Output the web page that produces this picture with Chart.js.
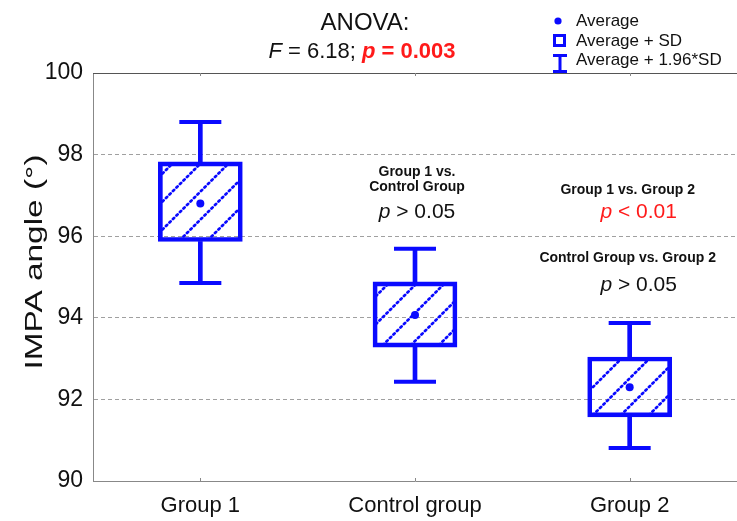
<!DOCTYPE html>
<html>
<head>
<meta charset="utf-8">
<script src="https://cdn.jsdelivr.net/npm/chart.js@4.4.1/dist/chart.umd.min.js"></script>
<style>
  html, body { margin: 0; padding: 0; background: #fff; }
  #wrap { width: 737px; height: 521px; }
</style>
</head>
<body>
<div id="wrap"><canvas id="impa" width="737" height="521"></canvas></div>
<script>
// IMPA angle per group: average, average +/- SD, average +/- 1.96*SD
const groups = ['Group 1', 'Control group', 'Group 2'];
const averages = [96.8, 94.07, 92.3];
const sdLow = [95.87, 93.28, 91.57];
const sdHigh = [97.82, 94.88, 93.04];
const ciLow = [94.85, 92.43, 90.81];
const ciHigh = [98.8, 95.69, 93.87];

const anovaF = '6.18';
const anovaP = '0.003';
const pairNames = [['Group 1 vs.', 'Control Group'], ['Group 1 vs. Group 2'], ['Control Group vs. Group 2']];
const pairP = ['> 0.05', '< 0.01', '> 0.05'];
const pairSignificant = [false, true, false];
const legendLabels = ['Average', 'Average + SD', 'Average + 1.96*SD'];

const BLUE = '#0a0aff';
const RED = '#ff1a1a';
const FONT = '"Liberation Sans", Arial, Helvetica, sans-serif';

// where the pairwise comparison notes sit (category index, y value of first line)
const pairSpots = [
  { cat: 1, top: 97.57, dx: 2, pDx: 2, pGap: 25 },
  { cat: 2, top: 97.13, dx: -2, pDx: 9, pGap: 22 },
  { cat: 2, top: 95.47, dx: -2, pDx: 9, pGap: 27 }
];

// dotted diagonal hatch used inside the SD boxes
function hatchPattern() {
  const n = 28;
  const c = document.createElement('canvas');
  c.width = c.height = n;
  const g = c.getContext('2d');
  g.strokeStyle = BLUE;
  g.lineWidth = 2.8;
  g.lineCap = 'round';
  const diag = n * Math.SQRT2;
  g.setLineDash([1.6, diag / 8 - 1.6]);
  for (const o of [-n, 0, n]) {
    g.beginPath();
    g.moveTo(o - 2, n + 2);
    g.lineTo(o + n + 2, -2);
    g.stroke();
  }
  return g.createPattern(c, 'repeat');
}

// write a row of differently styled text pieces centred on cx
function textRuns(ctx, parts, cx, y) {
  let total = 0;
  parts.forEach(p => { ctx.font = p.font; p.w = ctx.measureText(p.text).width; total += p.w; });
  let x = cx - total / 2;
  ctx.textAlign = 'left';
  parts.forEach(p => {
    ctx.font = p.font;
    ctx.fillStyle = p.color;
    ctx.fillText(p.text, x, y);
    x += p.w;
  });
}

const decor = {
  id: 'decor',
  afterDraw(chart) {
    const { ctx, chartArea: area, scales } = chart;
    const xs = scales.x, ys = scales.y;
    ctx.save();

    // frame line along the top and little category ticks
    ctx.strokeStyle = '#555';
    ctx.lineWidth = 1;
    ctx.beginPath();
    ctx.moveTo(area.left, area.top + 0.5);
    ctx.lineTo(area.right, area.top + 0.5);
    ctx.stroke();
    ctx.strokeStyle = '#888';
    groups.forEach((g, i) => {
      const px = Math.round(xs.getPixelForValue(i)) + 0.5;
      ctx.beginPath();
      ctx.moveTo(px, area.bottom);
      ctx.lineTo(px, area.bottom - 3);
      ctx.moveTo(px, area.top);
      ctx.lineTo(px, area.top + 3);
      ctx.stroke();
    });

    // ANOVA heading
    ctx.textBaseline = 'alphabetic';
    ctx.textAlign = 'center';
    ctx.fillStyle = '#111';
    ctx.font = '24px ' + FONT;
    ctx.fillText('ANOVA:', 365, 30);
    textRuns(ctx, [
      { text: 'F', font: 'italic 22px ' + FONT, color: '#111' },
      { text: ' = ' + anovaF + '; ', font: '22px ' + FONT, color: '#111' },
      { text: 'p', font: 'italic bold 22px ' + FONT, color: RED },
      { text: ' = ' + anovaP, font: 'bold 22px ' + FONT, color: RED }
    ], 362, 58);

    // legend
    ctx.fillStyle = BLUE;
    ctx.beginPath();
    ctx.arc(558, 21, 3.6, 0, Math.PI * 2);
    ctx.fill();
    ctx.strokeStyle = BLUE;
    ctx.lineWidth = 3;
    ctx.strokeRect(554.5, 35.5, 10, 10);
    ctx.fillRect(553, 54, 14, 3);
    ctx.fillRect(558.5, 55, 3, 16);
    ctx.fillRect(553, 70, 14, 3);
    ctx.fillStyle = '#111';
    ctx.font = '17px ' + FONT;
    ctx.textAlign = 'left';
    ctx.textBaseline = 'middle';
    legendLabels.forEach((t, i) => ctx.fillText(t, 576, [21, 41, 60][i]));

    // y axis title, stretched along its length
    ctx.save();
    ctx.translate(42, 262);
    ctx.rotate(-Math.PI / 2);
    ctx.font = '23px ' + FONT;
    const tw = ctx.measureText('IMPA angle (°)').width;
    ctx.scale(215 / tw, 1);
    ctx.textAlign = 'center';
    ctx.textBaseline = 'alphabetic';
    ctx.fillStyle = '#111';
    ctx.fillText('IMPA angle (°)', 0, 0);
    ctx.restore();

    // pairwise comparisons
    ctx.textBaseline = 'middle';
    pairSpots.forEach((s, i) => {
      const cx = xs.getPixelForValue(s.cat);
      let y = ys.getPixelForValue(s.top);
      ctx.font = 'bold 14px ' + FONT;
      ctx.fillStyle = '#111';
      ctx.textAlign = 'center';
      pairNames[i].forEach((line, j) => ctx.fillText(line, cx + s.dx, y + j * 15));
      y += (pairNames[i].length - 1) * 15 + s.pGap;
      const col = pairSignificant[i] ? RED : '#111';
      textRuns(ctx, [
        { text: 'p', font: 'italic 21px ' + FONT, color: col },
        { text: ' ' + pairP[i], font: '21px ' + FONT, color: col }
      ], cx + s.pDx, y);
    });

    ctx.restore();
  }
};

const sdRange = groups.map((g, i) => [sdLow[i], sdHigh[i]]);
const upperStem = groups.map((g, i) => [sdHigh[i], ciHigh[i]]);
const lowerStem = groups.map((g, i) => [ciLow[i], sdLow[i]]);

new Chart(document.getElementById('impa'), {
  type: 'bar',
  data: {
    labels: groups,
    datasets: [
      {
        type: 'line',
        label: 'Average',
        data: averages,
        showLine: false,
        pointStyle: 'circle',
        pointRadius: 4,
        pointBackgroundColor: BLUE,
        pointBorderWidth: 0,
        order: 0
      },
      {
        type: 'line',
        label: 'Average + 1.96*SD',
        data: ciHigh,
        showLine: false,
        pointStyle: 'line',
        pointRadius: 21,
        pointBorderWidth: 4,
        pointBorderColor: BLUE,
        order: 1
      },
      {
        type: 'line',
        label: 'Average - 1.96*SD',
        data: ciLow,
        showLine: false,
        pointStyle: 'line',
        pointRadius: 21,
        pointBorderWidth: 4,
        pointBorderColor: BLUE,
        order: 1
      },
      {
        label: 'Average + SD',
        data: sdRange,
        backgroundColor: hatchPattern(),
        borderColor: BLUE,
        borderWidth: 4,
        borderSkipped: false,
        barThickness: 84,
        grouped: false,
        order: 2
      },
      {
        label: 'upper whisker',
        data: upperStem,
        backgroundColor: BLUE,
        borderWidth: 0,
        barThickness: 4,
        grouped: false,
        order: 3
      },
      {
        label: 'lower whisker',
        data: lowerStem,
        backgroundColor: BLUE,
        borderWidth: 0,
        barThickness: 4,
        grouped: false,
        order: 3
      }
    ]
  },
  options: {
    responsive: false,
    animation: false,
    layout: { autoPadding: false, padding: { top: 73, left: 0, right: 0, bottom: 0 } },
    plugins: {
      legend: { display: false },
      tooltip: { enabled: false }
    },
    scales: {
      x: {
        grid: { display: false },
        border: { color: '#888', width: 1 },
        ticks: { color: '#111', font: { size: 22, family: FONT }, padding: 4 },
        afterFit(scale) { scale.height = 40; }
      },
      y: {
        min: 90,
        max: 100,
        ticks: { stepSize: 2, color: '#111', font: { size: 23, family: FONT }, padding: 10 },
        grid: {
          drawTicks: false,
          lineWidth: 1,
          color: c => (c.tick && (c.tick.value === 90 || c.tick.value === 100)) ? 'rgba(0,0,0,0)' : '#a0a0a0'
        },
        border: { color: '#888', width: 1, dash: [4, 3] },
        afterFit(scale) { scale.width = 93; }
      }
    }
  },
  plugins: [decor]
});
</script>
</body>
</html>
